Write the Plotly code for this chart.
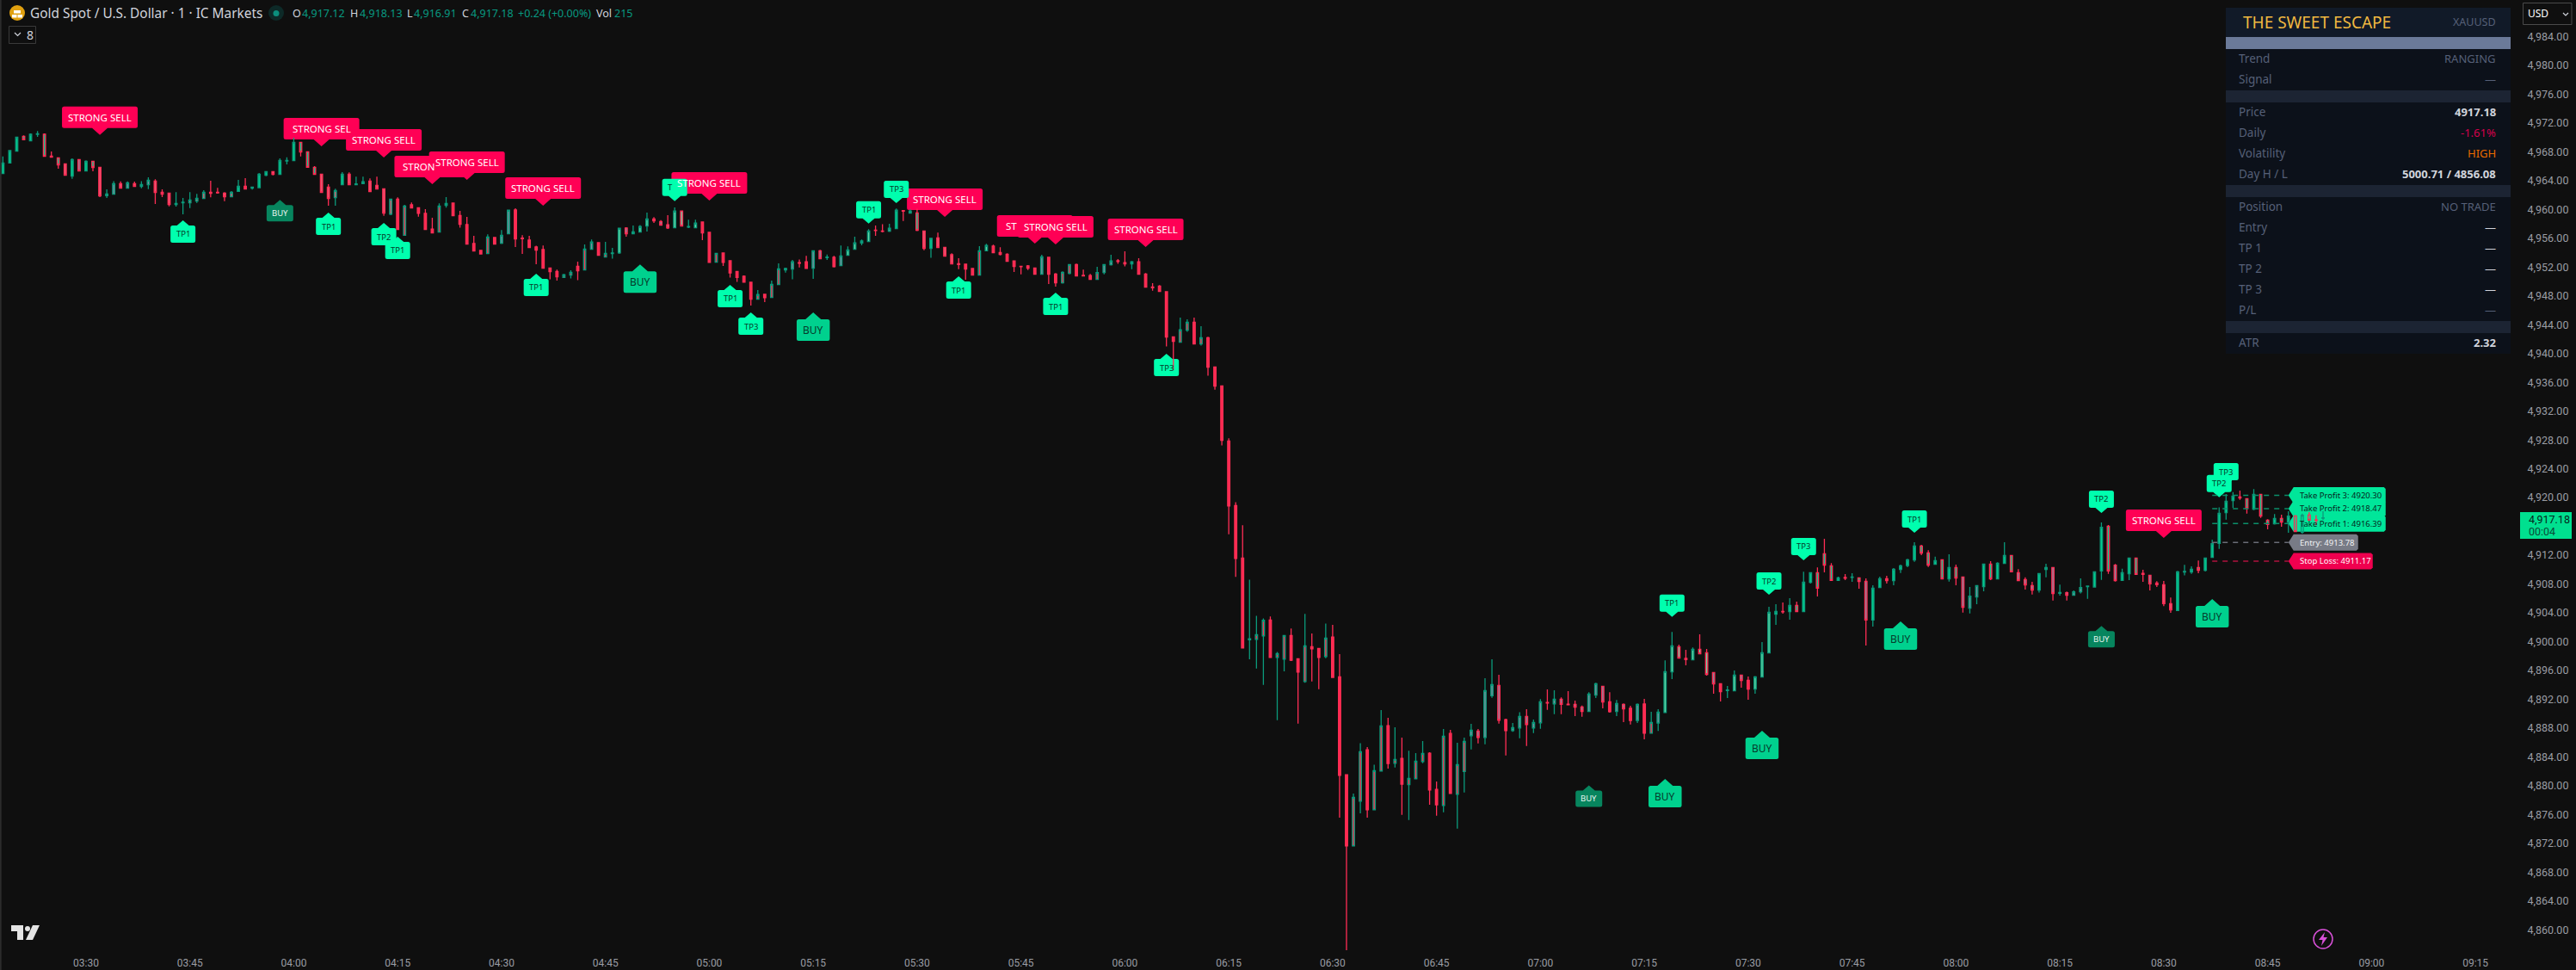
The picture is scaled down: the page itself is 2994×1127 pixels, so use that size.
import pandas as pd
import plotly.graph_objects as go

# ---------- data ----------
highs = [
4967.37,4968.25,4970.08,4970.28,4970.56,4970.88,4970.56,4968.05,4967.25,4966.38,
4967.09,4967.01,4966.81,4966.77,4965.90,4962.79,4963.94,4963.90,4963.90,4963.86,
4963.94,4964.46,4964.18,4962.79,4962.31,4962.39,4961.59,4962.39,4962.15,4962.67,
4963.98,4962.99,4962.39,4962.55,4964.10,4964.34,4963.11,4965.06,4965.26,4965.26,
4967.09,4967.25,4969.96,4969.36,4968.05,4966.02,4964.94,4963.51,4962.87,4965.18,
4965.14,4964.54,4964.54,4964.30,4964.54,4962.91,4961.47,4961.67,4960.64,4960.96,
4960.28,4960.04,4958.85,4960.84,4961.71,4960.96,4959.81,4958.97,4956.34,4954.31,
4956.54,4956.18,4957.14,4959.93,4960.17,4956.42,4956.34,4954.95,4954.99,4951.88,
4951.64,4951.05,4951.56,4952.76,4955.15,4955.82,4955.47,4955.51,4954.67,4957.38,
4957.54,4957.78,4957.82,4959.57,4958.93,4958.53,4959.21,4960.29,4959.81,4958.57,
4958.57,4958.33,4956.82,4953.91,4953.95,4952.88,4951.40,4950.85,4949.89,4948.82,
4948.22,4950.13,4952.52,4951.92,4953.00,4953.04,4953.55,4954.27,4954.39,4953.75,
4953.55,4954.99,4954.87,4956.22,4955.82,4957.26,4957.78,4957.94,4958.02,4960.13,
4959.89,4960.01,4960.09,4957.02,4956.06,4956.78,4954.75,4953.91,4953.24,4952.40,
4951.80,4954.91,4955.23,4955.11,4954.75,4953.91,4952.84,4952.16,4952.28,4951.88,
4953.71,4953.43,4951.16,4951.40,4952.36,4952.48,4951.64,4951.04,4952.04,4952.36,
4953.71,4953.12,4954.19,4952.84,4953.24,4951.16,4949.77,4949.49,4948.58,4942.32,
4944.99,4944.75,4944.99,4943.80,4942.32,4938.14,4935.51,4928.22,4919.36,4916.17,
4908.60,4903.58,4903.23,4903.50,4898.57,4900.84,4901.83,4897.61,4903.86,4901.12,
4899.04,4902.51,4902.31,4898.25,4881.52,4878.89,4885.90,4885.34,4882.91,4890.48,
4889.41,4888.09,4886.66,4884.86,4884.51,4886.18,4884.63,4880.56,4887.85,4887.73,
4885.94,4886.66,4888.57,4887.85,4894.90,4897.53,4895.38,4889.29,4888.69,4890.20,
4890.60,4889.17,4892.03,4893.35,4893.23,4892.27,4893.11,4891.81,4891.13,4892.96,
4894.28,4893.80,4892.96,4891.89,4891.41,4891.09,4891.41,4892.05,4890.26,4890.61,
4897.39,4901.33,4899.58,4898.86,4899.18,4901.01,4898.98,4895.71,4894.16,4893.84,
4895.99,4895.35,4895.16,4895.20,4899.93,4904.83,4905.19,4905.43,4906.03,4905.55,
4909.69,4909.57,4910.29,4914.27,4910.89,4909.02,4909.37,4909.49,4908.86,4908.78,
4907.82,4909.02,4909.13,4910.21,4910.69,4911.49,4913.80,4913.44,4912.68,4911.80,
4911.37,4912.12,4910.69,4908.98,4907.58,4907.78,4910.77,4911.17,4911.01,4913.80,
4912.00,4910.05,4908.94,4908.30,4909.45,4910.81,4910.29,4907.90,4906.95,4907.10,
4908.78,4907.70,4909.69,4916.54,4916.19,4910.77,4910.13,4911.60,4911.60,4909.97,
4909.22,4908.38,4908.42,4906.11,4909.81,4910.65,4910.45,4911.25,4911.60,4914.15,
4918.62,4920.49,4920.77,4920.97,4919.85,4921.16,4920.45,4916.98,4917.70,4917.62,
4918.10,4917.46,4917.78,4917.98,4917.54,4918.13]

lows = [
4964.98,4966.46,4968.09,4969.64,4969.52,4970.08,4967.37,4967.25,4965.66,4964.74,
4964.26,4965.30,4965.34,4965.30,4961.71,4961.59,4962.07,4962.95,4962.91,4963.15,
4962.95,4962.83,4960.76,4961.71,4960.44,4960.40,4959.33,4960.20,4960.92,4961.51,
4961.67,4962.19,4961.16,4961.67,4962.47,4962.83,4962.75,4962.95,4964.62,4964.74,
4964.86,4966.26,4966.77,4967.37,4965.82,4964.78,4962.35,4960.52,4960.52,4963.43,
4963.43,4963.43,4963.55,4962.47,4962.79,4959.13,4959.21,4957.17,4956.42,4960.20,
4959.01,4957.17,4956.74,4956.86,4960.24,4959.13,4957.46,4955.19,4954.23,4953.75,
4953.87,4955.19,4955.19,4956.62,4954.79,4953.83,4954.71,4952.40,4951.84,4950.29,
4950.13,4950.53,4950.41,4950.17,4951.60,4954.43,4953.63,4953.40,4953.16,4953.83,
4956.22,4956.62,4956.86,4956.94,4958.14,4957.82,4957.30,4957.46,4957.70,4957.42,
4957.46,4955.75,4952.56,4952.68,4952.16,4950.53,4949.93,4949.81,4946.66,4947.54,
4947.14,4947.78,4949.57,4951.24,4950.29,4951.96,4951.76,4950.37,4953.12,4953.00,
4951.96,4952.20,4953.63,4954.47,4955.03,4955.55,4956.34,4956.82,4956.86,4957.34,
4958.41,4959.49,4956.98,4954.35,4953.28,4954.71,4953.51,4952.44,4951.72,4950.25,
4950.89,4950.89,4954.23,4953.99,4953.63,4952.80,4951.32,4951.00,4951.60,4951.00,
4951.00,4949.65,4949.29,4949.69,4951.00,4950.77,4950.77,4950.29,4950.29,4951.00,
4952.20,4952.44,4952.08,4951.72,4951.00,4949.21,4948.73,4948.62,4940.97,4937.66,
4941.57,4943.00,4941.33,4941.09,4936.91,4934.99,4927.23,4914.90,4909.00,4899.12,
4897.53,4896.26,4893.99,4897.81,4889.09,4895.86,4897.29,4888.61,4894.30,4894.46,
4893.39,4897.69,4895.02,4875.55,4856.08,4871.64,4876.14,4875.55,4876.66,4882.04,
4882.36,4882.52,4875.94,4875.23,4880.96,4883.11,4877.34,4875.82,4876.30,4878.93,
4874.03,4879.05,4885.02,4885.86,4885.74,4892.19,4888.61,4884.19,4887.49,4886.58,
4885.50,4887.29,4887.89,4890.52,4889.92,4889.92,4891.24,4889.66,4889.58,4890.26,
4892.17,4890.73,4890.14,4889.66,4888.82,4888.50,4888.70,4886.43,4887.27,4887.59,
4890.14,4894.80,4897.70,4896.71,4897.47,4898.30,4895.27,4892.77,4891.69,4892.17,
4893.16,4893.60,4891.93,4892.77,4895.08,4898.42,4902.32,4903.88,4903.04,4904.16,
4904.16,4908.06,4906.27,4909.61,4908.46,4908.46,4908.54,4908.30,4907.34,4899.46,
4902.09,4907.50,4908.06,4907.82,4909.53,4910.33,4911.09,4912.00,4910.37,4910.73,
4908.70,4908.34,4907.82,4904.04,4903.92,4905.19,4906.98,4908.54,4908.70,4910.81,
4909.61,4908.46,4907.22,4906.55,4906.79,4908.94,4905.71,4906.39,4905.71,4906.39,
4906.67,4905.95,4907.50,4908.58,4909.41,4908.34,4908.50,4908.54,4909.29,4908.30,
4907.10,4907.58,4904.91,4904.00,4904.28,4909.18,4909.41,4909.49,4909.73,4911.68,
4912.88,4916.94,4918.58,4919.69,4917.78,4918.26,4917.18,4915.59,4916.23,4915.95,
4915.11,4915.27,4914.99,4916.86,4916.15,4916.91]

body_tops = [
4966.46,4968.17,4970.04,4970.16,4970.44,4970.52,4970.44,4967.41,4967.17,4966.34,
4966.93,4966.93,4966.69,4966.69,4965.86,4962.15,4963.59,4963.59,4963.70,4963.59,
4963.47,4964.06,4963.94,4962.39,4962.27,4960.84,4961.00,4961.32,4961.55,4962.39,
4962.39,4962.39,4962.27,4962.39,4963.23,4963.23,4963.11,4964.90,4965.26,4965.26,
4966.81,4966.81,4969.32,4969.32,4968.01,4965.86,4964.90,4963.11,4962.63,4964.90,
4964.90,4963.55,4963.86,4963.94,4963.35,4962.87,4961.43,4961.43,4960.48,4960.64,
4960.24,4959.45,4957.29,4960.48,4960.84,4960.88,4959.17,4957.90,4955.27,4954.31,
4956.18,4956.10,4956.42,4959.89,4959.93,4956.02,4955.75,4954.79,4954.43,4951.88,
4951.40,4950.93,4951.28,4952.12,4954.51,4955.47,4955.39,4953.91,4953.95,4957.38,
4957.42,4956.90,4957.62,4958.69,4958.69,4958.33,4957.86,4959.77,4959.77,4957.62,
4958.10,4958.25,4956.82,4953.91,4953.95,4952.88,4951.40,4950.73,4949.89,4948.18,
4948.22,4949.61,4951.76,4951.80,4952.72,4952.60,4952.72,4954.27,4954.27,4953.40,
4953.36,4953.55,4954.39,4955.35,4955.63,4957.02,4957.14,4957.02,4957.38,4959.89,
4959.85,4959.77,4959.53,4957.02,4955.98,4956.06,4954.75,4953.71,4952.48,4952.40,
4951.80,4954.27,4954.99,4954.91,4954.03,4953.79,4952.84,4952.12,4952.16,4951.88,
4953.43,4953.36,4951.04,4951.28,4952.36,4952.36,4950.85,4950.81,4951.24,4952.36,
4952.84,4952.88,4952.60,4952.72,4952.72,4951.04,4949.25,4949.37,4948.58,4942.32,
4943.28,4944.35,4944.35,4942.20,4942.20,4938.14,4935.51,4927.86,4918.88,4911.59,
4900.40,4900.96,4902.95,4902.99,4898.33,4900.84,4900.84,4897.61,4899.40,4899.28,
4899.04,4900.48,4900.64,4895.10,4881.52,4878.37,4884.71,4884.98,4882.08,4888.29,
4888.33,4883.63,4883.79,4881.00,4883.39,4884.47,4884.51,4879.49,4886.86,4887.25,
4882.91,4886.14,4887.69,4887.57,4893.19,4894.03,4893.91,4889.17,4888.05,4889.60,
4889.60,4888.77,4891.64,4891.56,4891.99,4891.99,4891.32,4891.29,4890.93,4892.73,
4894.16,4893.80,4891.65,4891.41,4891.29,4890.73,4891.29,4891.33,4888.78,4890.22,
4895.83,4899.42,4899.30,4897.66,4898.94,4898.94,4898.46,4895.71,4894.16,4893.28,
4895.35,4895.35,4894.64,4895.12,4898.46,4904.08,4904.20,4904.20,4905.03,4905.03,
4908.26,4909.57,4909.57,4912.20,4910.53,4908.86,4908.90,4908.98,4908.86,4908.38,
4907.42,4908.74,4908.74,4910.05,4910.53,4911.37,4913.28,4913.28,4912.32,4911.25,
4911.37,4910.29,4910.29,4908.98,4906.31,4907.78,4910.77,4910.77,4910.89,4911.96,
4911.96,4909.57,4908.62,4907.78,4909.45,4910.29,4910.29,4906.83,4906.79,4906.91,
4907.50,4907.70,4909.69,4915.87,4916.03,4910.61,4909.57,4911.60,4911.60,4909.49,
4909.22,4908.14,4907.90,4905.27,4909.69,4909.73,4910.05,4910.29,4911.60,4913.60,
4917.82,4919.49,4920.21,4920.09,4919.85,4920.45,4920.45,4916.86,4917.10,4917.10,
4917.42,4917.46,4917.54,4917.58,4916.90,4917.18]

body_bottoms = [
4964.98,4966.46,4968.09,4969.68,4969.52,4970.44,4967.37,4967.25,4966.18,4964.74,
4964.62,4965.34,4965.34,4965.82,4961.87,4961.91,4962.11,4962.95,4962.95,4963.19,
4963.19,4963.43,4962.35,4962.11,4960.68,4960.68,4960.92,4960.92,4961.16,4961.51,
4962.23,4962.31,4961.75,4961.75,4962.51,4962.83,4962.95,4963.03,4964.74,4964.86,
4964.86,4966.73,4966.77,4967.97,4965.86,4964.86,4962.35,4961.51,4961.63,4963.43,
4963.43,4963.43,4963.59,4962.47,4962.83,4959.48,4959.33,4957.21,4956.42,4960.20,
4959.45,4957.21,4956.74,4956.86,4960.56,4959.13,4957.94,4955.19,4954.23,4953.83,
4953.87,4955.19,4955.31,4956.62,4955.90,4955.94,4954.71,4954.35,4951.84,4951.36,
4950.65,4950.57,4950.89,4951.48,4951.60,4954.47,4953.63,4953.40,4953.87,4953.95,
4956.62,4956.62,4956.86,4957.70,4958.41,4957.82,4957.42,4957.46,4957.70,4957.54,
4957.46,4956.74,4952.64,4952.68,4952.64,4951.20,4950.57,4949.89,4947.54,4947.54,
4947.74,4947.78,4949.57,4951.60,4951.72,4952.52,4951.80,4951.84,4953.16,4953.32,
4952.04,4952.20,4953.63,4954.47,4955.35,4955.55,4957.06,4956.94,4956.98,4957.34,
4959.77,4959.49,4957.10,4954.59,4954.59,4954.71,4953.51,4952.44,4952.36,4951.72,
4950.89,4950.89,4954.27,4953.99,4953.75,4952.80,4952.08,4952.04,4951.84,4951.00,
4951.00,4951.00,4949.81,4949.81,4951.12,4950.77,4950.77,4950.29,4950.29,4951.24,
4952.32,4952.76,4952.44,4952.44,4951.00,4949.21,4949.13,4948.62,4942.28,4941.68,
4941.57,4943.24,4941.33,4941.33,4938.10,4935.47,4927.94,4918.84,4911.55,4899.12,
4900.24,4900.32,4900.80,4897.81,4897.81,4897.57,4897.41,4895.78,4894.46,4899.00,
4897.81,4897.93,4895.02,4881.44,4871.64,4871.64,4877.85,4876.66,4876.66,4882.04,
4883.07,4883.11,4880.21,4880.13,4880.96,4883.35,4879.41,4877.34,4877.26,4878.93,
4878.81,4881.96,4886.94,4886.70,4886.70,4892.47,4889.09,4887.65,4887.65,4888.01,
4888.49,4888.01,4888.73,4891.48,4891.36,4891.28,4891.24,4890.89,4890.30,4890.30,
4892.57,4891.61,4890.26,4890.30,4890.65,4889.06,4889.06,4887.27,4887.27,4888.70,
4890.14,4895.79,4897.70,4897.51,4897.47,4898.30,4895.43,4894.12,4893.04,4893.20,
4893.16,4894.60,4893.40,4893.40,4895.08,4898.42,4903.80,4904.12,4904.16,4904.16,
4904.16,4908.22,4907.42,4910.61,4908.50,4908.50,4908.78,4908.90,4908.34,4903.00,
4903.00,4907.50,4908.46,4908.46,4910.01,4910.57,4911.33,4912.28,4910.61,4910.73,
4908.70,4908.70,4908.82,4904.75,4904.63,4906.19,4907.62,4908.70,4908.70,4910.85,
4909.69,4908.46,4907.86,4907.14,4907.14,4910.01,4906.67,4906.71,4906.43,4906.43,
4906.91,4907.62,4907.58,4909.81,4909.81,4908.46,4908.50,4909.41,4909.33,4909.33,
4908.02,4907.90,4905.27,4904.40,4904.32,4909.65,4909.65,4909.89,4909.89,4911.68,
4913.64,4917.90,4919.57,4919.93,4918.50,4918.38,4917.42,4916.27,4916.35,4916.58,
4916.58,4915.27,4915.19,4916.86,4916.82,4917.12]

# direction (u/d) + body paint (G green, R red, S slate, L light green, P pink, H hollow)
bar_kinds = """
uG uG uG dG uG uG dG dR dG dP
uG dS uG dG dP uS uS dP uS dP
uS uS dP dP dP uG uG uP uP uP
dR dR dP uP uG dR uG uG uG dP
uG uG uG dG dG dG dP dP uP uG
dP uG uS dP dP dP uP dR uR dR
dR dR dR uR uG dR dR dR dR dR
uR dR uS uS dR dR dR dR dR dR
dR uR uR dR uR uS dR uR uG uL
dS uG uL uL dP dS dS uL dL uG
uL dR dR uR dR dR dR dR dR uR
dR uR uR uG uS dR dR uS dS uG
dR uS uL uL uL uL dR dR uS uG
dR uR dG dP uG dP dP dP dR dR
dR uR uL dR dR dR dR dR dR dR
uS dR dR uR uR dR dR dR uR uS
uS dR dR uS dR dR dR dR dR dR
uR uR dR uR dR dR dR dR dR dR
uG uR uR dR uR uR dR dR uR dR
dR uR dR dR dR uR uR dR uR uR
dR uR dR uR uR uR dR dR uR dR
uR uR uS dS uS uS dS dR uS uS
dS uS uS dR uS dS dR dS dS uS
uS dS dR uS dS dR uS dR uR uS
uL uL dL dR uL dL dL dS dR uG
uL dS dR uL uL uL uG dR uG dG
uG uG dG dG dG uG dR uG dG dS
uG uG dG uG uG uG uG dG dG uG
dG uG dG dS uS uS uG dG uG uG
dG dS dS dS uG uS dS uG dS uS
uS uS uG uG dG dS uG uG dG dR
dS dS dP dP uG uG uG dG uG uG
uG uG uG dR dG uG dG dG uG dG
uG dH uH dH dR uH
""".split()

first_bar = "2026-01-29 03:18"
times = pd.date_range(first_bar, periods=len(highs), freq="1min")

price_ticks = list(range(4860, 4985, 4))

# callouts: kind, bar number, price of the pointer tip, visible text
signal_kinds = ["SS","SS","SS","SS","SS","SS","SS","SS","SS","SS","SS","SS",
                "TPU","TPU","TPU","TPU","TPU","TPU","TPU","TPU","TPU","TPU",
                "TPD","TPD","TPD","TPD","TPD","TPD","TPD","TPD","TPD","TPD",
                "BIG","BIG","BIG","BIG","BIG","BIG","SMALL","SMALL","SMALL"]
signal_bars = [14,46,55,62,67,78,102,136,149,152,165,312,
               26,47,55,57,77,105,108,138,152,168,
               97,125,129,241,255,260,276,303,320,321,
               92,117,240,254,274,319,40,229,303]
signal_prices = [4970.35,4968.77,4967.21,4963.51,4964.10,4960.52,4961.24,4958.97,4955.26,4955.14,4954.78,4914.39,
                 4958.49,4959.56,4958.13,4956.22,4951.08,4949.53,4945.70,4950.72,4948.45,4939.96,
                 4961.15,4958.05,4960.88,4903.42,4906.50,4911.29,4915.11,4917.86,4920.05,4921.68,
                 4952.36,4945.70,4880.93,4887.62,4902.80,4905.91,4961.32,4880.05,4902.17]
signal_texts = ["STRONG SELL","STRONG SEL","STRONG SELL","STRON","STRONG SELL","STRONG SELL","STRONG SELL","STRONG SELL","ST","STRONG SELL","STRONG SELL","STRONG SELL",
                "TP1","TP1","TP2","TP1","TP1","TP1","TP3","TP1","TP1","TP3",
                "T","TP1","TP3","TP1","TP2","TP3","TP1","TP2","TP2","TP3",
                "BUY","BUY","BUY","BUY","BUY","BUY","BUY","BUY","BUY"]

level_names = ["Take Profit 3: 4920.30","Take Profit 2: 4918.47","Take Profit 1: 4916.39","Entry: 4913.78","Stop Loss: 4911.17"]
level_prices = [4920.30,4918.47,4916.39,4913.78,4911.17]
level_line_colors = ["#0b8f6a","#0b8f6a","#0b8f6a","#6a6d77","#b0123f"]
level_box_colors = ["#00e69a","#00e69a","#00e69a","#787b86","#f0004f"]
level_text_colors = ["#06251c","#06251c","#06251c","#f2f3f5","#ffffff"]
level_box_widths = [107,107,107,75,92]
level_start_bar = 319
level_end_bar = 330

panel_rows = ["Trend","Signal","Price","Daily","Volatility","Day H / L","Position","Entry","TP 1","TP 2","TP 3","P/L","ATR"]
panel_values = ["RANGING","—","4917.18","-1.61%","HIGH","5000.71 / 4856.08","NO TRADE","—","—","—","—","—","2.32"]
panel_value_colors = ["#566078","#566078","#d1d4dc","#d6004c","#e86a00","#d1d4dc","#566078","#d1d4dc","#d1d4dc","#d1d4dc","#d1d4dc","#566078","#d1d4dc"]
panel_y = [68,92,130,154,178,202,240,264,288,312,336,360,398]

assert len(highs) == len(lows) == len(body_tops) == len(body_bottoms) == len(bar_kinds)
assert len(signal_kinds) == len(signal_bars) == len(signal_prices) == len(signal_texts)

# ---------- page geometry ----------
W, H = 2994, 1127
PL_W, PL_H = 2927, 1104
BG = "#0f0f0f"
FONT = "Noto Sans"
UP_LINE, DN_LINE = "#0b9a7b", "#ff2d55"
PAINTS = {"G": "#00cf8d", "R": "#ff2b50", "S": "#7d8a9c", "L": "#66d5a4", "P": "#e45a72", "H": "rgba(0,0,0,0)"}

px = lambda x: x / PL_W
py = lambda y: 1 - y / PL_H

fig = go.Figure()

# levels first, candles over them
for name, price, col in zip(level_names, level_prices, level_line_colors):
    fig.add_trace(go.Scatter(x=[times[level_start_bar], times[level_end_bar]], y=[price, price], mode="lines",
                             line=dict(color=col, width=1.5, dash="6px,6px"), hoverinfo="skip", showlegend=False))

opens = [b if k[0] == "u" else t for k, t, b in zip(bar_kinds, body_tops, body_bottoms)]
closes = [t if k[0] == "u" else b for k, t, b in zip(bar_kinds, body_tops, body_bottoms)]

for paint, fill in PAINTS.items():
    idx = [i for i, k in enumerate(bar_kinds) if k[1] == paint]
    fig.add_trace(go.Candlestick(
        x=[times[i] for i in idx],
        open=[opens[i] for i in idx], high=[highs[i] for i in idx],
        low=[lows[i] for i in idx], close=[closes[i] for i in idx],
        increasing=dict(line=dict(color=UP_LINE, width=1.3), fillcolor=fill),
        decreasing=dict(line=dict(color=DN_LINE, width=1.3), fillcolor=fill),
        whiskerwidth=0, hoverinfo="skip", showlegend=False))

shapes, anns = [], []


def rr(x0, y0, x1, y1, fill, line=None, r=None):
    s = dict(type="rect", xref="paper", yref="paper", x0=px(x0), x1=px(x1), y0=py(y0), y1=py(y1),
             fillcolor=fill, line=dict(width=1 if line else 0, color=line or fill), layer="above")
    shapes.append(s)


def txt(x, y, text, size=13, color="#d1d4dc", anchor="left", family=FONT):
    anns.append(dict(xref="paper", yref="paper", x=px(x), y=py(y), text=text, showarrow=False,
                     xanchor=anchor, yanchor="middle", font=dict(family=family, size=size, color=color)))


def path_px(points, fill, line=None, width=0, closed=True):
    p = "M" + " L".join(f"{px(a):.6f},{py(b):.6f}" for a, b in points) + (" Z" if closed else "")
    shapes.append(dict(type="path", xref="paper", yref="paper", path=p, fillcolor=fill,
                       line=dict(width=width, color=line or "rgba(0,0,0,0)"), layer="above"))


def callout_path(w, h, ptr, up, r=2.5):
    """pointer tip at the origin, y counted upward from the anchor"""
    s = -1 if up else 1
    a, b = s * ptr, s * (ptr + h)
    hw, pw = w / 2, ptr + 1
    ri = s * r
    return (f"M0,0 L{pw},{a} L{hw-r},{a} Q{hw},{a} {hw},{a+ri} L{hw},{b-ri} Q{hw},{b} {hw-r},{b} "
            f"L{-hw+r},{b} Q{-hw},{b} {-hw},{b-ri} L{-hw},{a+ri} Q{-hw},{a} {-hw+r},{a} L{-pw},{a} Z")


STYLES = {
    "SS": dict(w=88, h=25, ptr=8, up=False, fill="#ff0055", color="#ffffff", size=11.5),
    "TPU": dict(w=29, h=20, ptr=6, up=True, fill="#00ffae", color="#063a2b", size=9.5),
    "TPD": dict(w=29, h=20, ptr=6, up=False, fill="#00ffae", color="#063a2b", size=9.5),
    "BIG": dict(w=38.5, h=25, ptr=8, up=True, fill="#00d18e", color="#063a2b", size=12),
    "SMALL": dict(w=31, h=19, ptr=6, up=True, fill="#07855e", color="#e9f6f1", size=9.5),
}

for kind, bar, price, text in zip(signal_kinds, signal_bars, signal_prices, signal_texts):
    st = STYLES[kind]
    shapes.append(dict(type="path", xref="x", yref="y", xsizemode="pixel", ysizemode="pixel",
                       xanchor=times[bar], yanchor=price,
                       path=callout_path(st["w"], st["h"], st["ptr"], st["up"]),
                       fillcolor=st["fill"], line=dict(width=0), layer="below"))
    offset = (st["ptr"] + st["h"] / 2) * (-1 if st["up"] else 1)
    clipped = text in ("STRONG SEL", "STRON", "ST", "T")
    anns.append(dict(x=times[bar], y=price, xref="x", yref="y", text=text, showarrow=False,
                     xanchor="left" if clipped else "center", yanchor="middle",
                     xshift=(-st["w"] / 2 + (8 if kind == "SS" else 4)) if clipped else 0,
                     yshift=offset, font=dict(family=FONT, size=st["size"], color=st["color"])))

for name, price, box, tcol, bw in zip(level_names, level_prices, level_box_colors, level_text_colors, level_box_widths):
    h2, tip = 9.5, 6
    path = (f"M0,0 L{tip},{h2} L{tip+bw-2},{h2} L{tip+bw},{h2-2} L{tip+bw},{-h2+2} L{tip+bw-2},{-h2} L{tip},{-h2} Z")
    shapes.append(dict(type="path", xref="x", yref="y", xsizemode="pixel", ysizemode="pixel",
                       xanchor=times[level_end_bar], yanchor=price, path=path,
                       fillcolor=box, line=dict(width=0), layer="below"))
    anns.append(dict(x=times[level_end_bar], y=price, xref="x", yref="y", text=name, showarrow=False,
                     xanchor="left", yanchor="middle", xshift=tip + 5,
                     font=dict(family=FONT, size=9.5, color=tcol)))

# ---------- info panel ----------
rr(2587, 9, 2918, 411, "#0c111a")
rr(2587, 9, 2918, 43, "#111a28")
rr(2587, 43, 2918, 57, "#6b7a99")
for y0 in (105, 215, 373):
    rr(2587, y0, 2918, y0 + 14, "#1c2433")
txt(2605, 26, "THE SWEET ESCAPE", size=19, color="#f0b840")
txt(2903, 25, "XAUUSD", size=12.5, color="#566078", anchor="right")
for label, value, col, y in zip(panel_rows, panel_values, panel_value_colors, panel_y):
    txt(2600, y, label, size=13.5, color="#566078")
    strong = col == "#d1d4dc"
    txt(2903, y, f"<b>{value}</b>" if strong and value != "—" else value, size=13, color=col, anchor="right")

# ---------- header ----------
shapes.append(dict(type="circle", xref="paper", yref="paper", x0=px(11), x1=px(29), y0=py(24), y1=py(6),
                   fillcolor="#e0a010", line=dict(width=0), layer="above"))
rr(16, 12, 24, 15.5, "#ffffff")
rr(14, 17, 19.5, 20.5, "#ffffff")
rr(20.5, 17, 26, 20.5, "#ffffff")
txt(33, 15.5, "Gold Spot / U.S. Dollar · 1 · IC Markets", size=15.4)
shapes.append(dict(type="circle", xref="paper", yref="paper", x0=px(312), x1=px(330), y0=py(24), y1=py(6),
                   fillcolor="#0d2a28", line=dict(width=0), layer="above"))
shapes.append(dict(type="circle", xref="paper", yref="paper", x0=px(317.5), x1=px(324.5), y0=py(19), y1=py(12),
                   fillcolor="#0b8f7d", line=dict(width=0), layer="above"))
TEAL = "#089981"
for x, text, col in [(338, "O", "#d1d4dc"), (349, "4,917.12", TEAL), (405, "H", "#d1d4dc"), (416, "4,918.13", TEAL),
                     (471, "L", "#d1d4dc"), (479, "4,916.91", TEAL), (535, "C", "#d1d4dc"), (545, "4,917.18", TEAL),
                     (600, "+0.24 (+0.00%)", TEAL), (691, "Vol", "#d1d4dc"), (712, "215", TEAL)]:
    txt(x, 15.5, text, size=12.5, color=col)
rr(10.5, 30.5, 41.5, 50.5, BG, line="#3a3a3a")
path_px([(17, 38), (20.5, 41.5), (24, 38)], "rgba(0,0,0,0)", line="#d1d4dc", width=1.2, closed=False)
txt(29, 40.5, "8", size=14)

# ---------- price axis furniture ----------
rr(2932.5, 3.5, 2989, 28.5, BG, line="#4a4a4a")
txt(2936, 15.5, "USD", size=12, color="#ffffff")
path_px([(2979, 15), (2982, 18), (2985, 15)], "rgba(0,0,0,0)", line="#d1d4dc", width=1.2, closed=False)
rr(2929, 595, 2989, 626, "#00e08f")
txt(2937, 603, "4,917.18", size=12.5, color="#06251c", family="Roboto")
txt(2937, 617, "00:04", size=12.5, color="#0a4a38", family="Roboto")

# ---------- logo, small icon and chart frame ----------
rr(0, 0, 1.7, 1127, "#2c2c2c")
path_px([(13, 1075), (27, 1075), (27, 1092), (20, 1092), (20, 1082), (13, 1082)], "#e4e4e4")
shapes.append(dict(type="circle", xref="paper", yref="paper", x0=px(29), x1=px(35), y0=py(1082), y1=py(1076),
                   fillcolor="#e4e4e4", line=dict(width=0), layer="above"))
path_px([(38, 1075), (46, 1075), (38, 1092), (30, 1092)], "#e4e4e4")
shapes.append(dict(type="circle", xref="paper", yref="paper", x0=px(2689), x1=px(2711), y0=py(1102), y1=py(1080),
                   fillcolor="rgba(0,0,0,0)", line=dict(width=1.5, color="#d850d8"), layer="above"))
path_px([(2702, 1083), (2695, 1092), (2699.5, 1092), (2698, 1099), (2705, 1089), (2700.5, 1089)], "#d850d8")

fig.update_layout(
    width=W, height=H, autosize=False,
    margin=dict(l=0, r=W - PL_W, t=0, b=H - PL_H),
    paper_bgcolor=BG, plot_bgcolor=BG,
    showlegend=False, hovermode=False, dragmode=False, boxgap=0.55,
    shapes=shapes, annotations=anns,
    font=dict(family=FONT, color="#a3a6ad"),
    xaxis=dict(type="date", range=["2026-01-29 03:17:35", "2026-01-29 09:21:12"],
               tickformat="%H:%M", dtick=900000, tick0="2026-01-29 03:30",
               showgrid=False, zeroline=False, showline=False, ticks="",
               tickfont=dict(family="Roboto", size=12, color="#9a9da4"),
               rangeslider=dict(visible=False), fixedrange=True, ticklabelstandoff=6),
    yaxis=dict(side="right", range=[4989.08 - 0.1195 * PL_H, 4989.08],
               tickmode="array", tickvals=price_ticks, ticktext=[f"{v:,.2f}" for v in price_ticks],
               showgrid=False, zeroline=False, showline=False, ticks="outside", ticklen=7, tickcolor="rgba(0,0,0,0)",
               tickfont=dict(family="Roboto", size=12.5, color="#9a9da4"), fixedrange=True),
)

fig.write_html("out.html", config=dict(displayModeBar=False, staticPlot=False),
               post_script="document.body.style.margin='0';document.body.style.overflow='hidden';document.body.style.background='#0f0f0f';")
